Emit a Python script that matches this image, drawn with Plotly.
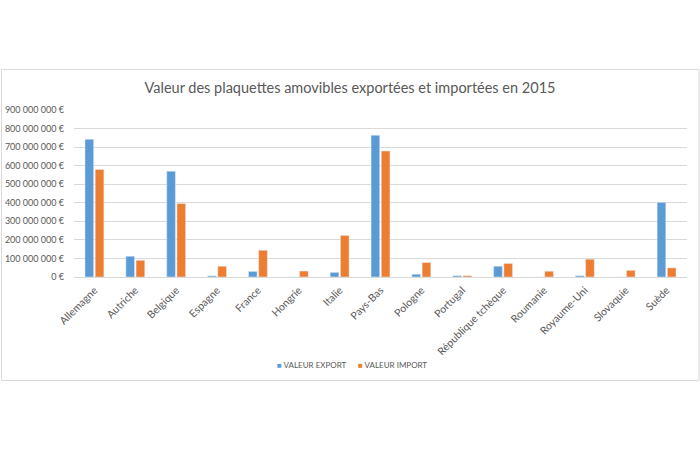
import plotly.graph_objects as go

pays = ["Allemagne", "Autriche", "Belgique", "Espagne", "France", "Hongrie", "Italie",
        "Pays-Bas", "Pologne", "Portugal", "République tchèque", "Roumanie",
        "Royaume-Uni", "Slovaquie", "Suède"]
valeur_export = [742e6, 112e6, 570e6, 6e6, 30e6, 0, 25e6,
                 764e6, 15e6, 7e6, 58e6, 0, 7e6, 0, 402e6]
valeur_import = [580e6, 90e6, 396e6, 58e6, 144e6, 32e6, 224e6,
                 679e6, 78e6, 7e6, 73e6, 31e6, 96e6, 36e6, 49e6]
y_ticks = [0, 100e6, 200e6, 300e6, 400e6, 500e6, 600e6, 700e6, 800e6, 900e6]
y_tick_text = ["0 €", "100 000 000 €", "200 000 000 €", "300 000 000 €", "400 000 000 €",
               "500 000 000 €", "600 000 000 €", "700 000 000 €", "800 000 000 €",
               "900 000 000 €"]
series_names = ["VALEUR EXPORT", "VALEUR IMPORT"]
series_colors = ["#5B9BD5", "#ED7D31"]

FONT = "Lato, 'Open Sans', sans-serif"
GREY = "#595959"

fig = go.Figure()
fig.add_trace(go.Bar(name=series_names[0], x=pays, y=valeur_export, showlegend=False,
                     marker=dict(color=series_colors[0])))
fig.add_trace(go.Bar(name=series_names[1], x=pays, y=valeur_import, showlegend=False,
                     marker=dict(color=series_colors[1])))

# plot area in pixels
L, R, T, B = 73.5, 687, 110, 276.7
W, H = 700, 450
pw, ph = R - L, B - T

def px_x(x):
    return (x - L) / pw

def px_y(y):
    return (B - y) / ph

legend_x = [275, 356]
annotations = []
for name, col, lx in zip(series_names, series_colors, legend_x):
    annotations.append(dict(
        xref="paper", yref="paper", x=px_x(lx), y=px_y(365), xanchor="left", yanchor="middle",
        showarrow=False,
        text=f"<span style='color:{col}; font-size:8px'>■</span> {name}",
        font=dict(family=FONT, size=8, color=GREY)))

fig.update_layout(
    width=W, height=H,
    margin=dict(l=L, r=W - R, t=T, b=H - B, pad=0, autoexpand=False),
    paper_bgcolor="white", plot_bgcolor="white",
    barmode="group", bargap=0.5, bargroupgap=0.15,
    font=dict(family=FONT, color=GREY, size=10),
    title=dict(text="Valeur des plaquettes amovibles exportées et importées en 2015",
               x=0.5, xanchor="center", y=1 - 88 / H, yanchor="middle",
               font=dict(family=FONT, size=14.5, color=GREY)),
    showlegend=False,
    annotations=annotations,
    xaxis=dict(tickangle=-45, showgrid=False, showline=True, linecolor="#D9D9D9",
               linewidth=1, ticks="", ticklabelstandoff=2, automargin=False,
               tickfont=dict(family=FONT, size=10.5, color=GREY)),
    yaxis=dict(range=[0, 900e6], tickvals=y_ticks, ticktext=y_tick_text,
               showgrid=True, gridcolor="#D9D9D9", gridwidth=1, zeroline=False,
               showline=False, ticks="", ticklabelstandoff=9, automargin=False,
               tickfont=dict(family=FONT, size=9, color=GREY)),
    shapes=[dict(type="rect", xref="paper", yref="paper",
                 x0=px_x(1), x1=px_x(699), y0=px_y(380), y1=px_y(69.5),
                 line=dict(color="#D9D9D9", width=1), fillcolor="rgba(0,0,0,0)", layer="below")],
)

fig.write_html("out.html")
